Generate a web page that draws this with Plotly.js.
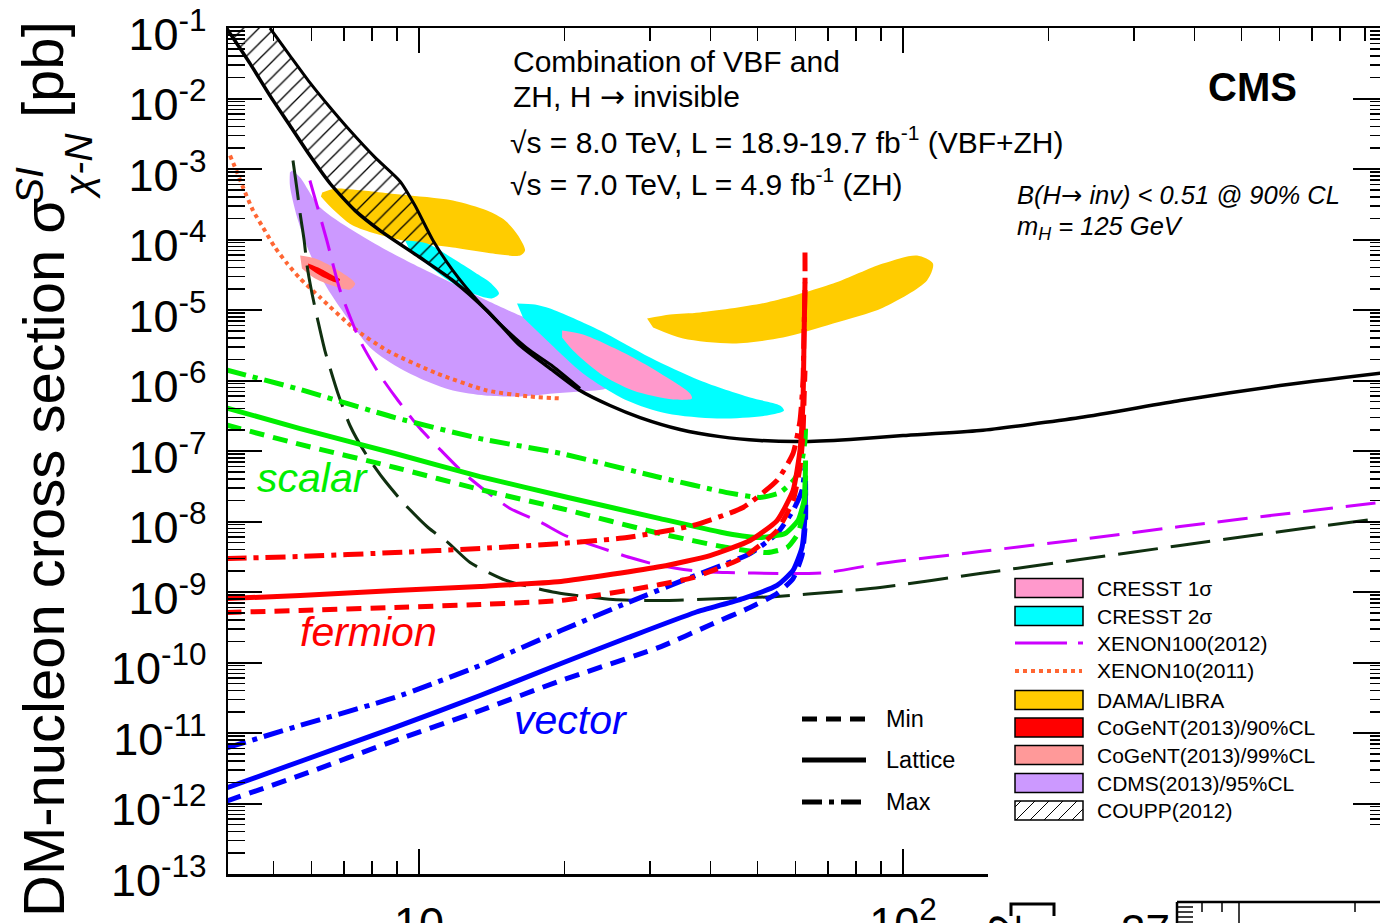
<!DOCTYPE html>
<html><head><meta charset="utf-8">
<script src="https://cdn.plot.ly/plotly-3.0.1.min.js"></script>
<style>html,body{margin:0;padding:0;overflow:hidden;background:#fff;width:1380px;height:923px}#plot{width:1400px;height:960px}</style>
</head><body><div id="plot"></div>
<script>
// ---------------- data (DM mass in GeV, cross section in pb) ----------------
const cmsMass = [4.0, 4.48, 4.92, 5.41, 5.95, 6.55, 7.38, 8.31, 10.05, 11.75, 13.82, 16.17, 18.92, 21.51, 24.81, 28.62, 34.62, 41.87, 50.64, 61.26, 77.7, 100, 144.2, 232.1, 373.6, 600.9, 1000];
const cmsSigma = [1.0e-1, 3.1e-2, 1.1e-2, 4.14e-3, 1.55e-3, 6.23e-4, 2.57e-4, 1.34e-4, 5.55e-5, 2.62e-5, 9.8e-6, 3.13e-6, 1.38e-6, 7.21e-7, 4.42e-7, 2.98e-7, 2.02e-7, 1.60e-7, 1.41e-7, 1.36e-7, 1.46e-7, 1.66e-7, 1.95e-7, 2.98e-7, 5.20e-7, 8.49e-7, 1.30e-6];

const couppMass = [4.92, 5.41, 5.95, 6.55, 7.20, 8.11, 9.14, 9.81, 10.69, 11.75, 13.37, 15.20, 16.96, 18.92, 21.51];
const couppSigma = [1.0e-1, 4.07e-2, 1.68e-2, 7.45e-3, 3.51e-3, 1.46e-3, 6.65e-4, 3.03e-4, 9.68e-5, 3.63e-5, 1.24e-5, 5.12e-6, 2.66e-6, 1.58e-6, 7.70e-7];

const dama1Mass = [6.31, 6.71, 7.30, 9.14, 11.75, 13.82, 15.06, 16.02, 16.56, 16.17, 14.70, 11.75, 9.27, 7.30, 6.55, 6.27];
const dama1Sigma = [4.63e-4, 5.28e-4, 5.12e-4, 4.34e-4, 3.57e-4, 2.57e-4, 1.86e-4, 1.14e-4, 6.98e-5, 5.93e-5, 6.13e-5, 7.70e-5, 9.68e-5, 1.58e-4, 2.94e-4, 4.07e-4];
const dama2Mass = [29.59, 33.01, 38.07, 52.36, 71.7, 90.9, 106.9, 115.3, 112.1, 90.9, 71.7, 56.5, 44.56, 35.12, 30.45];
const dama2Sigma = [7.58e-6, 8.63e-6, 9.22e-6, 1.28e-5, 2.37e-5, 4.56e-5, 5.93e-5, 4.56e-5, 2.62e-5, 1.08e-5, 6.44e-6, 4.07e-6, 3.35e-6, 3.94e-6, 5.65e-6];

const cresst2aMass = [9.36, 10.39, 11.75, 13.05, 14.02, 14.63, 14.15, 12.75, 11.42, 10.29, 9.58];
const cresst2aSigma = [9.68e-5, 8.77e-5, 5.37e-5, 3.40e-5, 2.45e-5, 1.71e-5, 1.46e-5, 1.77e-5, 2.70e-5, 4.71e-5, 6.98e-5];
const cresst2bMass = [15.94, 17.36, 18.66, 23.66, 30.02, 38.07, 48.3, 55.70, 56.76, 52.36, 41.27, 32.54, 26.90, 21.82, 18.66, 16.40];
const cresst2bSigma = [1.24e-5, 1.20e-5, 1.05e-5, 5.12e-6, 2.12e-6, 1.0e-6, 5.74e-7, 4.42e-7, 3.75e-7, 3.19e-7, 2.89e-7, 3.40e-7, 5.20e-7, 1.26e-6, 3.35e-6, 7.82e-6];
const cresst1Mass = [19.75, 21.82, 27.68, 32.54, 36.30, 36.64, 33.48, 27.68, 23.66, 20.81, 19.75];
const cresst1Sigma = [5.12e-6, 4.49e-6, 2.12e-6, 1.10e-6, 6.54e-7, 5.55e-7, 5.37e-7, 7.21e-7, 1.26e-6, 2.66e-6, 4.07e-6];

const cdmsMass = [5.47, 5.68, 6.25, 7.30, 8.59, 10.05, 11.75, 13.82, 16.17, 18.92, 21.51, 23.66, 25.05, 24.58, 21.51, 18.92, 16.17, 13.69, 11.75, 10.05, 8.92, 7.92, 7.10, 6.45, 5.95, 5.60, 5.41, 5.41];
const cdmsSigma = [9.52e-4, 7.58e-4, 2.84e-4, 1.34e-4, 6.98e-5, 4.00e-5, 2.37e-5, 1.36e-5, 8.35e-6, 5.46e-6, 3.69e-6, 2.26e-6, 1.18e-6, 7.95e-7, 6.98e-7, 6.54e-7, 5.93e-7, 6.13e-7, 7.21e-7, 1.07e-6, 1.63e-6, 2.94e-6, 7.82e-6, 2.08e-5, 6.33e-5, 2.05e-4, 5.84e-4, 8.92e-4];

const cogent99Mass = [5.68, 6.10, 6.71, 7.38, 7.20, 6.71, 6.10, 5.73];
const cogent99Sigma = [5.93e-5, 5.37e-5, 3.88e-5, 2.37e-5, 1.95e-5, 2.15e-5, 2.79e-5, 3.88e-5];
const cogent90Mass = [5.90, 6.25, 6.64, 6.87, 6.77, 6.25, 5.90];
const cogent90Sigma = [4.56e-5, 3.88e-5, 3.08e-5, 2.70e-5, 2.45e-5, 3.08e-5, 4.00e-5];

const xenon10Mass = [4.07, 4.21, 4.33, 4.54, 4.76, 5.04, 5.34, 5.68, 6.25, 7.30, 8.59, 10.89, 13.82, 16.96, 19.75];
const xenon10Sigma = [1.55e-3, 8.92e-4, 5.46e-4, 2.57e-4, 1.48e-4, 7.70e-5, 4.56e-5, 2.79e-5, 1.50e-5, 5.65e-6, 2.66e-6, 1.26e-6, 7.21e-7, 5.93e-7, 5.55e-7];

const xenon100Mass = [5.95, 6.45, 6.87, 7.55, 8.31, 9.05, 10.05, 11.10, 12.33, 13.69, 15.42, 17.87, 20.03, 23.66, 27.29, 31.48, 38.07, 43.30, 55.70, 69.66, 89.7, 144.2, 232.1, 373.6, 670.6, 1000];
const xenon100Sigma = [6.87e-4, 9.68e-5, 1.89e-5, 3.69e-6, 1.18e-6, 5.20e-7, 2.08e-7, 1.02e-7, 4.95e-8, 2.75e-8, 1.53e-8, 9.68e-9, 6.33e-9, 4.27e-9, 3.08e-9, 2.37e-9, 1.95e-9, 1.89e-9, 1.83e-9, 1.89e-9, 2.53e-9, 3.75e-9, 5.55e-9, 8.49e-9, 1.38e-8, 1.92e-8];

const darkDashMass = [5.49, 5.60, 5.68, 5.79, 5.87, 6.01, 6.18, 6.39, 6.80, 7.20, 7.73, 8.43, 9.27, 10.44, 11.48, 12.75, 15.13, 19.19, 25.17, 32.38, 42.47, 54.92, 74.1, 89.7, 144.2, 232.1, 373.6, 670.6, 1000];
const darkDashSigma = [1.32e-3, 4.95e-4, 2.34e-4, 9.68e-5, 4.27e-5, 1.71e-5, 7.08e-6, 2.66e-6, 6.54e-7, 2.30e-7, 9.52e-8, 4.07e-8, 1.86e-8, 8.22e-9, 5.03e-9, 2.62e-9, 1.46e-9, 9.84e-10, 7.82e-10, 7.58e-10, 8.08e-10, 8.63e-10, 1.02e-9, 1.16e-9, 1.83e-9, 2.89e-9, 4.56e-9, 7.95e-9, 1.14e-8];

const scalarMaxMass = [4.0, 5.68, 8.92, 13.37, 19.65, 31.48, 43.30, 50.64, 55.70, 59.82, 61.84, 62.73, 62.9];
const scalarMaxSigma = [1.41e-6, 7.45e-7, 2.98e-7, 1.50e-7, 9.22e-8, 4.21e-8, 2.57e-8, 2.19e-8, 2.57e-8, 4.07e-8, 7.33e-8, 1.41e-7, 2.08e-7];
const scalarLatMass = [4.0, 5.68, 8.92, 13.37, 20.32, 31.48, 43.30, 50.64, 57.05, 60.68, 62.44, 62.8, 62.9];
const scalarLatSigma = [4.07e-7, 2.08e-7, 9.22e-8, 4.34e-8, 2.19e-8, 1.10e-8, 6.75e-9, 5.93e-9, 6.75e-9, 1.03e-8, 1.98e-8, 4.07e-8, 7.33e-8];
const scalarMinMass = [4.0, 5.68, 8.92, 13.37, 19.65, 31.48, 43.30, 52.36, 57.59, 60.68, 62.14, 62.8, 62.9];
const scalarMinSigma = [2.34e-7, 1.24e-7, 5.84e-8, 2.84e-8, 1.53e-8, 6.75e-9, 4.27e-9, 3.63e-9, 4.27e-9, 6.75e-9, 1.30e-8, 2.50e-8, 4.49e-8];

const fermionMaxMass = [4.0, 5.68, 8.92, 13.37, 19.65, 26.90, 36.82, 46.71, 54.92, 59.26, 61.26, 62.14, 62.44, 62.73, 62.73];
const fermionMaxSigma = [2.98e-9, 3.19e-9, 3.63e-9, 4.14e-9, 4.87e-9, 5.93e-9, 8.77e-9, 1.58e-8, 3.82e-8, 9.22e-8, 2.70e-7, 1.0e-6, 5.12e-6, 1.89e-5, 6.54e-5];
const fermionLatMass = [4.0, 5.68, 8.92, 13.37, 19.65, 31.62, 39.93, 48.3, 54.92, 59.26, 61.26, 62.14, 62.44, 62.73];
const fermionLatSigma = [8.08e-10, 8.92e-10, 1.05e-9, 1.20e-9, 1.41e-9, 2.30e-9, 3.29e-9, 5.37e-9, 1.03e-8, 2.75e-8, 1.02e-7, 5.20e-7, 3.69e-6, 2.45e-5];
const fermionMinMass = [4.0, 5.68, 8.92, 13.37, 19.65, 26.90, 36.82, 46.71, 54.92, 59.26, 61.26, 62.14, 62.44, 62.73];
const fermionMinSigma = [5.12e-10, 5.46e-10, 6.03e-10, 6.65e-10, 7.58e-10, 1.05e-9, 1.60e-9, 3.08e-9, 7.45e-9, 1.98e-8, 5.84e-8, 1.77e-7, 5.20e-7, 1.38e-6];

const vectorMaxMass = [4.0, 5.68, 8.92, 13.37, 19.65, 27.03, 37.18, 48.3, 54.92, 59.26, 61.84, 62.73];
const vectorMaxSigma = [6.13e-12, 1.28e-11, 3.19e-11, 9.07e-11, 2.84e-10, 7.09e-10, 1.71e-9, 3.51e-9, 6.75e-9, 1.43e-8, 2.75e-8, 5.84e-8];
const vectorLatMass = [4.0, 5.68, 8.92, 13.37, 19.65, 27.03, 37.18, 46.71, 54.92, 59.26, 61.84, 62.73, 62.9];
const vectorLatSigma = [1.66e-12, 3.94e-12, 1.20e-11, 3.40e-11, 9.68e-11, 2.26e-10, 5.12e-10, 8.08e-10, 1.24e-9, 2.02e-9, 4.27e-9, 1.22e-8, 3.82e-8];
const vectorMinMass = [4.0, 5.68, 8.92, 13.37, 19.65, 31.62, 40.12, 48.3, 54.92, 59.26, 61.84, 62.9, 62.9];
const vectorMinSigma = [1.08e-12, 2.50e-12, 7.82e-12, 2.08e-11, 5.55e-11, 1.68e-10, 3.46e-10, 6.03e-10, 9.52e-10, 1.55e-9, 3.29e-9, 1.05e-8, 3.46e-8];

const yTickExp = [-13,-12,-11,-10,-9,-8,-7,-6,-5,-4,-3,-2,-1];
const xTickVals = [10, 100];
const xTickText = ['10', '10<sup>2</sup>'];

const legendBoxes = [
  {label:'CRESST 1σ', color:'#ff99cc'},
  {label:'CRESST 2σ', color:'#00ffff'},
  {label:'XENON100(2012)', line:'xenon100'},
  {label:'XENON10(2011)', line:'xenon10'},
  {label:'DAMA/LIBRA', color:'#ffcc00'},
  {label:'CoGeNT(2013)/90%CL', color:'#ff0000'},
  {label:'CoGeNT(2013)/99%CL', color:'#ff9999'},
  {label:'CDMS(2013)/95%CL', color:'#cc99ff'},
  {label:'COUPP(2012)', hatch:true}
];

// ---------------- layout geometry ----------------
const W = 1400, H = 960, L = 228, T = 28, PW = 1159, PH = 846;
function px(x){ return (x - L) / PW; }
function py(y){ return (T + PH - y) / PH; }
const FONT = 'Liberation Sans, Arial, Helvetica, sans-serif';
const ARROW = '<span style="font-family:DejaVu Sans">→</span>';

const base = {type:'scatter', mode:'lines', hoverinfo:'skip', showlegend:false};
function area(x, y, color){
  return Object.assign({}, base, {x, y, fill:'toself', fillcolor:color, line:{width:0, color:color, shape:'spline', smoothing:0.8}});
}
function curve(x, y, color, width, dash, sm){
  return Object.assign({}, base, {x, y, line:{color, width, dash, shape:'spline', smoothing: sm === undefined ? 0.6 : sm}});
}

// COUPP hatched band: between COUPP line and CMS line
const lastC = couppMass[couppMass.length - 1];
const cmsPart = cmsMass.map((m, i) => [m, cmsSigma[i]]).filter(p => p[0] <= lastC).reverse();
const hatchX = couppMass.concat(cmsPart.map(p => p[0]));
const hatchY = couppSigma.concat(cmsPart.map(p => p[1]));

const dashMin = '15px,9px', dashMax = '20px,7px,5px,7px';
const GREEN = '#00ee00', RED = '#ff0000', BLUE = '#0000ff';

const traces = [
  area(dama1Mass, dama1Sigma, '#ffcc00'),
  area(dama2Mass, dama2Sigma, '#ffcc00'),
  area(cdmsMass, cdmsSigma, '#cc99ff'),
  area(cresst2aMass, cresst2aSigma, '#00ffff'),
  area(cresst2bMass, cresst2bSigma, '#00ffff'),
  area(cresst1Mass, cresst1Sigma, '#ff99cc'),
  area(cogent99Mass, cogent99Sigma, '#ff9999'),
  area(cogent90Mass, cogent90Sigma, '#ff0000'),
  Object.assign({}, base, {x:hatchX, y:hatchY, fill:'toself', fillcolor:'rgba(0,0,0,0)',
    fillpattern:{shape:'/', fgcolor:'#000', bgcolor:'rgba(0,0,0,0)', size:11, solidity:0.12},
    line:{width:0, color:'rgba(0,0,0,0)', shape:'spline', smoothing:0.6}}),
  curve(xenon10Mass, xenon10Sigma, '#ff6633', 4, '4px,4px'),
  curve(darkDashMass, darkDashSigma, '#103010', 3, '40px,13px'),
  curve(xenon100Mass, xenon100Sigma, '#cc00ff', 3, '30px,13px'),
  curve(cmsMass, cmsSigma, '#000', 3.5, 'solid'),
  curve(couppMass, couppSigma, '#000', 3, 'solid'),
  curve(vectorMinMass, vectorMinSigma, BLUE, 5, dashMin, 0.5),
  curve(vectorLatMass, vectorLatSigma, BLUE, 5, 'solid', 0.5),
  curve(vectorMaxMass, vectorMaxSigma, BLUE, 5, dashMax, 0.5),
  curve(scalarMinMass, scalarMinSigma, GREEN, 5, dashMin, 0.5),
  curve(scalarLatMass, scalarLatSigma, GREEN, 5, 'solid', 0.5),
  curve(scalarMaxMass, scalarMaxSigma, GREEN, 5, dashMax, 0.5),
  curve(fermionMinMass, fermionMinSigma, RED, 5, dashMin, 0.5),
  curve(fermionLatMass, fermionLatSigma, RED, 5, 'solid', 0.5),
  curve(fermionMaxMass, fermionMaxSigma, RED, 5, dashMax, 0.5)
];

// ---------------- ticks ----------------
const yTickVals = yTickExp.map(e => Math.pow(10, e));
const yTickText = yTickExp.map(e => '10<sup>' + e + '</sup>');
const yMinor = [];
yTickExp.slice(0, -1).forEach(e => { for (let d = 2; d <= 9; d++) yMinor.push(d * Math.pow(10, e)); });
const xMinor = [];
[1, 10, 100].forEach(s => { for (let d = 2; d <= 9; d++) { const v = d * s; if (v > 4.03) xMinor.push(v); } });

// ---------------- shapes & annotations ----------------
const shapes = [];
const annotations = [];
function ann(text, x, y, size, opts){
  annotations.push(Object.assign({text, x:px(x), y:py(y), xref:'paper', yref:'paper', showarrow:false,
    xanchor:'left', yanchor:'middle', font:{size, family:FONT, color:'#000'}}, opts || {}));
}
function line(x0, y0, x1, y1, color, width, dash){
  shapes.push({type:'line', xref:'paper', yref:'paper', x0:px(x0), y0:py(y0), x1:px(x1), y1:py(y1), line:{color, width, dash:dash || 'solid'}});
}

// cut-off region in the lower right of the figure
shapes.push({type:'rect', xref:'paper', yref:'paper', x0:px(988), x1:px(1400), y0:py(960), y1:py(828), fillcolor:'#fff', line:{width:0}, layer:'above'});
// fragments of a neighbouring panel at the bottom edge
line(1177, 902, 1400, 902, '#000', 2.5);
line(1177, 902, 1177, 960, '#000', 2.5);
[907, 912, 917, 922].forEach(y => line(1177, y, 1193, y, '#000', 1.5));
[[1202, 912], [1222, 912], [1239, 930], [1355, 912]].forEach(t => line(t[0], 902, t[0], t[1], '#000', 1.5));
shapes.push({type:'path', xref:'paper', yref:'paper', path:'M' + px(1011) + ',' + py(916) + ' L' + px(1011) + ',' + py(904) + ' L' + px(1054) + ',' + py(904) + ' L' + px(1054) + ',' + py(916), line:{color:'#000', width:3}});
ann('37', 1145, 930, 44, {xanchor:'center'});
ann('2', 1004, 926, 44, {xanchor:'center', textangle:-90});

// y axis title pieces
ann('DM-nucleon cross section σ', 43, 558, 58, {xanchor:'center', textangle:-90});
ann('<i>SI</i>', 29, 186, 39, {xanchor:'center', textangle:-90});
ann('<i>χ-N</i>', 78, 166, 39, {xanchor:'center', textangle:-90});
ann('[pb]', 43, 70, 58, {xanchor:'center', textangle:-90});

// header texts
ann('Combination of VBF and', 511, 62, 30);
ann('ZH, H ' + ARROW + ' invisible', 511, 96, 30);
ann('√s = 8.0 TeV, L = 18.9-19.7 fb<sup>-1</sup> (VBF+ZH)', 508, 140, 30);
ann('√s = 7.0 TeV, L = 4.9 fb<sup>-1</sup> (ZH)', 508, 182, 30);
ann('<b>CMS</b>', 1252, 87, 40, {xanchor:'center'});
ann('<i>B(H' + ARROW + ' inv) &lt; 0.51 @ 90% CL</i>', 1015, 195, 25.5);
ann('<i>m<sub>H</sub> = 125 GeV</i>', 1015, 228, 25.5);

// curve labels
ann('<i>scalar</i>', 313, 478, 41, {xanchor:'center', font:{size:41, family:FONT, color:GREEN}});
ann('<i>fermion</i>', 368, 632, 41, {xanchor:'center', font:{size:41, family:FONT, color:RED}});
ann('<i>vector</i>', 571, 720, 41, {xanchor:'center', font:{size:41, family:FONT, color:BLUE}});

// Min / Lattice / Max legend
[['Min', 719, '15px,9px'], ['Lattice', 760, 'solid'], ['Max', 802, '20px,7px,5px,7px']].forEach(r => {
  line(802, r[1], 866, r[1], '#000', 5, r[2]);
  ann(r[0], 884, r[1], 23.5);
});

// experiment legend
const rowY = [588, 616, 643, 671, 700, 727.5, 755, 783, 810.5];
legendBoxes.forEach((b, i) => {
  const yc = rowY[i];
  if (b.line === 'xenon100') {
    line(1015, yc, 1067, yc, '#cc00ff', 3);
    line(1078, yc, 1083, yc, '#cc00ff', 3);
  } else if (b.line === 'xenon10') {
    line(1015, yc, 1082, yc, '#ff6633', 4, '4px,4px');
  } else {
    shapes.push({type:'rect', xref:'paper', yref:'paper', x0:px(1015), x1:px(1083), y0:py(yc + 9.5), y1:py(yc - 9.5),
      fillcolor: b.hatch ? '#fff' : b.color, line:{color:'#000', width:1.5}});
    if (b.hatch) {
      const x0 = 1015, x1 = 1083, yb = yc + 9.5, h = 19;
      for (let c = x0 - h + 6; c < x1; c += 14) {
        const s0 = Math.max(0, x0 - c), s1 = Math.min(h, x1 - c);
        if (s1 > s0) line(c + s0, yb - s0, c + s1, yb - s1, '#000', 1);
      }
    }
  }
  ann(b.label, 1095, yc, 21);
});

const axisCommon = {type:'log', showline:true, linecolor:'#000', linewidth:2.5, mirror:'ticks', ticks:'inside',
  tickcolor:'#000', showgrid:false, zeroline:false, tickfont:{size:45, family:FONT, color:'#000'}, tickmode:'array',
  ticklabeloverflow:'allow'};

const layout = {
  width:W, height:H, margin:{l:L, r:W - L - PW, t:T, b:H - T - PH, pad:0},
  paper_bgcolor:'#fff', plot_bgcolor:'rgba(0,0,0,0)', font:{family:FONT, color:'#000'},
  xaxis: Object.assign({}, axisCommon, {range:[Math.log10(4.03), 3], tickvals:xTickVals, ticktext:xTickText,
    ticklen:25, tickwidth:2, ticklabelstandoff:8,
    minor:{tickmode:'array', tickvals:xMinor, ticks:'inside', ticklen:13, tickwidth:1.5, tickcolor:'#000', showgrid:false}}),
  yaxis: Object.assign({}, axisCommon, {range:[-13, -1], tickvals:yTickVals, ticktext:yTickText,
    ticklen:34, tickwidth:2, ticklabelstandoff:10, ticklabelshift:6,
    minor:{tickmode:'array', tickvals:yMinor, ticks:'inside', ticklen:17, tickwidth:1.5, tickcolor:'#000', showgrid:false}}),
  shapes, annotations, showlegend:false
};

Plotly.newPlot('plot', traces, layout, {staticPlot:true, displayModeBar:false});
</script>
</body></html>
